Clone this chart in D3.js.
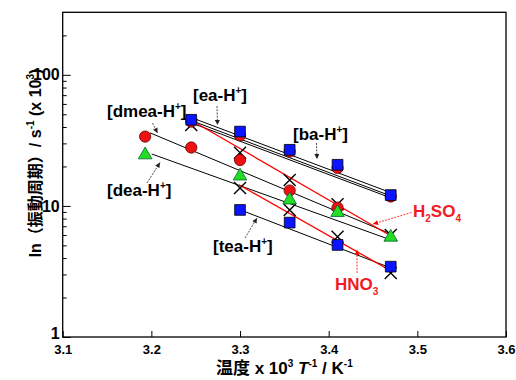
<!DOCTYPE html>
<html>
<head>
<meta charset="utf-8">
<script src="https://cdn.jsdelivr.net/npm/d3@7"></script>
<style>
  body { margin: 0; background: #fff; }
  svg text { font-family: "Liberation Sans", Arial, "Noto Sans CJK JP", sans-serif; font-weight: bold; }
</style>
</head>
<body>
<div id="chart"></div>
<script>
// Inverse temperature (x 10^3 / K)
var temps = [3.193, 3.245, 3.3, 3.356, 3.41, 3.47];

// Oscillation values per salt (null = no point)
var eaVals   = [null, 45.4, 36.9, 26.8, 20.6, 12.1];
var baVals   = [null, 44.0, 34.5, 26.0, 19.5, 11.8];
var dmeaVals = [33.8, 27.9, 22.4, 13.1, 9.7, null];
var deaVals  = [24.5, null, 16.9, 11.1, 8.9, 5.77];
var teaVals  = [null, null, 9.32, 7.46, 5.04, 3.44];
var h2so4Vals = [null, 41.5, 25.4, 15.8, 10.3, 6.0];
var hno3Vals  = [null, null, 13.7, 9.32, 5.83, 3.08];

// Fitted lines: [x1, y1, x2, y2]
var eaFit    = [3.2458, 47.0, 3.4703, 12.6];
var baFit    = [3.2458, 44.6, 3.4703, 11.9];
var ba2Fit   = [3.2458, 42.8, 3.4703, 11.5];
var dmeaFit  = [3.1985, 36.1, 3.4703, 6.1];
var deaFit   = [3.2004, 24.9, 3.4703, 5.5];
var teaFit   = [3.3056, 9.04, 3.4703, 3.36];
var h2so4Fit = [3.2458, 44.6, 3.4703, 5.9];
var hno3Fit  = [3.2988, 14.5, 3.4703, 3.19];

var xTicks = [3.1, 3.2, 3.3, 3.4, 3.5, 3.6];
var yTicks = [1, 10, 100];
var yMinor = [2, 3, 4, 5, 6, 7, 8, 9, 20, 30, 40, 50, 60, 70, 80, 90, 200];

var saltNames = ["dmea", "dea", "ea", "ba", "tea"];

var width = 516, height = 380;
var plot = { left: 62.7, right: 506, top: 12.3, bottom: 337 };

var svg = d3.select("#chart").append("svg")
  .attr("width", width)
  .attr("height", height);

svg.append("defs").selectAll("marker")
  .data([["arrBlack", "#222"], ["arrRed", "#f00"]])
  .enter().append("marker")
    .attr("id", function(d) { return d[0]; })
    .attr("viewBox", "0 0 10 10")
    .attr("refX", 10).attr("refY", 5)
    .attr("markerWidth", 6).attr("markerHeight", 5)
    .attr("markerUnits", "userSpaceOnUse")
    .attr("orient", "auto")
  .append("path")
    .attr("d", "M0,0L10,5L0,10z")
    .attr("fill", function(d) { return d[1]; });

var x = d3.scaleLinear().domain([3.1, 3.6]).range([plot.left, plot.right]);
var y = d3.scaleLog().domain([1, 300]).range([plot.bottom, plot.top]);

// Axes (ticks point inwards)
var xAxis = svg.append("g")
  .attr("transform", "translate(0," + plot.bottom + ")")
  .call(d3.axisBottom(x).tickValues(xTicks).tickSize(-6).tickPadding(8)
    .tickFormat(d3.format(".1f")));
xAxis.selectAll("text").attr("font-size", 13).attr("fill", "#000");

var yAxis = svg.append("g")
  .attr("transform", "translate(" + plot.left + ",0)")
  .call(d3.axisLeft(y).tickValues(yTicks).tickSize(-8).tickPadding(3)
    .tickFormat(d3.format("d")));
yAxis.selectAll("text").attr("font-size", 16).attr("fill", "#000")
  .attr("y", function(d) { return d === 1 ? -4 : 0; });

svg.append("g")
  .attr("transform", "translate(" + plot.left + ",0)")
  .call(d3.axisLeft(y).tickValues(yMinor).tickSize(-4).tickFormat(""));

svg.selectAll(".domain").remove();
svg.selectAll(".tick line").attr("stroke", "#000").attr("stroke-width", 1);

svg.append("rect")
  .attr("x", plot.left).attr("y", plot.top)
  .attr("width", plot.right - plot.left)
  .attr("height", plot.bottom - plot.top)
  .attr("fill", "none").attr("stroke", "#000").attr("stroke-width", 1.3);

// Fit lines
var blackFits = [eaFit, baFit, ba2Fit, dmeaFit, deaFit, teaFit];
var redFits = [h2so4Fit, hno3Fit];

function drawFits(fits, color, w) {
  svg.append("g").selectAll("line")
    .data(fits)
    .enter().append("line")
      .attr("x1", function(d) { return x(d[0]); })
      .attr("y1", function(d) { return y(d[1]); })
      .attr("x2", function(d) { return x(d[2]); })
      .attr("y2", function(d) { return y(d[3]); })
      .attr("stroke", color)
      .attr("stroke-width", w);
}
drawFits(blackFits, "#000", 1);
drawFits(redFits, "#f00", 1.3);

function pts(vals) {
  return temps.map(function(t, i) { return [t, vals[i]]; })
    .filter(function(d) { return d[1] != null; });
}

// X markers (acid series)
svg.append("g").selectAll("path")
  .data(pts(h2so4Vals).concat(pts(hno3Vals)))
  .enter().append("path")
    .attr("transform", function(d) { return "translate(" + x(d[0]) + "," + y(d[1]) + ")"; })
    .attr("d", "M-6,-6L6,6M-6,6L6,-6")
    .attr("stroke", "#000").attr("stroke-width", 1.4).attr("fill", "none");

function drawSymbols(vals, type, size, fill, stroke) {
  svg.append("g").selectAll("path")
    .data(pts(vals))
    .enter().append("path")
      .attr("transform", function(d) { return "translate(" + x(d[0]) + "," + y(d[1]) + ")"; })
      .attr("d", d3.symbol().type(type).size(size))
      .attr("fill", fill)
      .attr("stroke", stroke)
      .attr("stroke-width", 0.8);
}
drawSymbols(baVals, d3.symbolCircle, 100, "#ee1111", "#600");
drawSymbols(dmeaVals, d3.symbolCircle, 100, "#ee1111", "#600");
drawSymbols(deaVals, d3.symbolTriangle, 80, "#22dd22", "#063");
drawSymbols(eaVals, d3.symbolSquare, 115, "#0a14ff", "#000");
drawSymbols(teaVals, d3.symbolSquare, 115, "#0a14ff", "#000");

// Annotation layout (pixels): text left/baseline, arrow start -> end
var saltLayout = [
  { tx: 107, ty: 117, a: [152.5, 123, 157.5, 133] },
  { tx: 107, ty: 196, a: [147, 183, 160, 162.5] },
  { tx: 193, ty: 101, a: [217, 106, 217.5, 125] },
  { tx: 293, ty: 140, a: [316.5, 143, 317, 159] },
  { tx: 213, ty: 252, a: [245, 238, 257, 218] }
];

function addArrow(p, red) {
  svg.append("line")
    .attr("x1", p[0]).attr("y1", p[1])
    .attr("x2", p[2]).attr("y2", p[3])
    .attr("stroke", red ? "#f00" : "#222")
    .attr("stroke-width", 0.8)
    .attr("stroke-dasharray", "2,1.2")
    .attr("marker-end", red ? "url(#arrRed)" : "url(#arrBlack)");
}

saltNames.forEach(function(name, i) {
  var L = saltLayout[i];
  var t = svg.append("text")
    .attr("x", L.tx).attr("y", L.ty)
    .attr("font-size", 17)
    .attr("fill", "#000");
  t.append("tspan").text("[" + name + "-H");
  t.append("tspan").attr("font-size", 10).attr("dy", -7).text("+");
  t.append("tspan").attr("dy", 7).text("]");
  addArrow(L.a, false);
});

// Acid labels (red)
var acids = [
  { parts: [["H", 0], ["2", 1], ["SO", 0], ["4", 1]], tx: 413, ty: 217, a: [411.5, 212.5, 373, 224] },
  { parts: [["HNO", 0], ["3", 1]], tx: 335, ty: 290, a: [357, 273, 357, 250] }
];
acids.forEach(function(a) {
  var t = svg.append("text")
    .attr("x", a.tx).attr("y", a.ty)
    .attr("font-size", 17).attr("fill", "#ee1c24");
  var prevSub = 0;
  a.parts.forEach(function(p) {
    t.append("tspan")
      .attr("font-size", p[1] ? 10 : 17)
      .attr("dy", p[1] === prevSub ? 0 : (p[1] ? 5 : -5))
      .text(p[0]);
    prevSub = p[1];
  });
  addArrow(a.a, true);
});

// Axis titles
var xt = svg.append("text")
  .attr("x", (plot.left + plot.right) / 2).attr("y", 374)
  .attr("text-anchor", "middle").attr("font-size", 17).attr("fill", "#000");
xt.append("tspan").text("温度 x 10");
xt.append("tspan").attr("font-size", 10).attr("dy", -7).text("3");
xt.append("tspan").attr("dy", 7).text(" ");
xt.append("tspan").attr("font-style", "italic").text("T");
xt.append("tspan").attr("font-size", 10).attr("dy", -7).text("-1");
xt.append("tspan").attr("dy", 7).text(" / K");
xt.append("tspan").attr("font-size", 10).attr("dy", -7).text("-1");

var yt = svg.append("text")
  .attr("transform", "translate(41,163) rotate(-90)")
  .attr("text-anchor", "middle").attr("font-size", 16).attr("fill", "#000");
yt.append("tspan").text("ln（振動周期）/ s");
yt.append("tspan").attr("font-size", 10).attr("dy", -7).text("-1");
yt.append("tspan").attr("dy", 7).text(" (x 10");
yt.append("tspan").attr("font-size", 10).attr("dy", -7).text("3");
yt.append("tspan").attr("dy", 7).text(")");
</script>
</body>
</html>
